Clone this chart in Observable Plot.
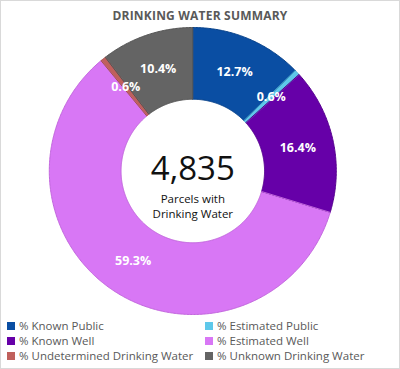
<!DOCTYPE html>
<html>
<head>
<meta charset="utf-8">
<script src="https://cdn.jsdelivr.net/npm/d3@7"></script>
<script src="https://cdn.jsdelivr.net/npm/@observablehq/plot@0.6"></script>
<style>
  html, body { margin: 0; padding: 0; background: #fff; }
  #wrap { width: 400px; height: 369px; box-sizing: border-box; border: 1px solid #d9d9d9; position: relative; overflow: hidden; font-family: "Open Sans", sans-serif; }
  #title { height: 25px; box-sizing: border-box; padding-top: 5px; line-height: 20px; text-align: center; font-weight: bold; font-size: 12px; color: #595959; letter-spacing: 0.2px; }
  #chart svg { display: block; }
  #legend { display: grid; grid-template-columns: 198px 190px; padding-left: 6px; margin-top: 0px; }
  .item { height: 15px; line-height: 15px; font-size: 11.5px; color: #595959; white-space: nowrap; display: flex; align-items: center; }
  .sw { width: 8px; height: 8px; margin-right: 4px; flex: none; }
</style>
</head>
<body>
<div id="wrap">
  <div id="title">DRINKING WATER SUMMARY</div>
  <div id="chart"></div>
  <div id="legend"></div>
</div>
<script>
const categories = ["% Known Public", "% Estimated Public", "% Known Well", "% Estimated Well", "% Undetermined Drinking Water", "% Unknown Drinking Water"];
const values = [12.7, 0.6, 16.4, 59.3, 0.6, 10.4];
const colors = ["#0a4ea3", "#5ec8ea", "#6600a8", "#d877f5", "#c0605c", "#646464"];
const strokes = ["#08428a", "#4fb3d3", "#56008f", "#c266dd", "#a8504c", "#555555"];
const totalLabel = "4,835";
const centerCaption = "Parcels with\nDrinking Water";

const innerR = 0.5;
const labelR = 0.75;

const pie = d3.pie().sort(null).value(d => d)(values);

// polygon points for each slice
const pts = [];
pie.forEach((p, i) => {
  const n = Math.max(2, Math.ceil((p.endAngle - p.startAngle) / 0.01));
  for (let k = 0; k <= n; k++) {
    const a = p.startAngle + (p.endAngle - p.startAngle) * k / n;
    pts.push({cat: categories[i], idx: i, x: Math.sin(a), y: Math.cos(a)});
  }
  for (let k = n; k >= 0; k--) {
    const a = p.startAngle + (p.endAngle - p.startAngle) * k / n;
    pts.push({cat: categories[i], idx: i, x: innerR * Math.sin(a), y: innerR * Math.cos(a)});
  }
});

const labels = pie.map((p, i) => {
  const a = (p.startAngle + p.endAngle) / 2;
  return {text: values[i].toFixed(1) + "%", x: labelR * Math.sin(a), y: labelR * Math.cos(a)};
});

const chart = Plot.plot({
  width: 398,
  height: 292,
  marginLeft: 47.8,
  marginRight: 63.2,
  marginTop: 1,
  marginBottom: 4,
  x: {domain: [-1, 1], axis: null},
  y: {domain: [-1, 1], axis: null},
  style: {fontFamily: "Open Sans, sans-serif", background: "transparent", overflow: "visible"},
  marks: [
    Plot.line(pts, {
      x: "x", y: "y", z: "cat",
      fill: d => colors[d.idx],
      stroke: d => strokes[d.idx],
      strokeWidth: 1,
      curve: "linear-closed"
    }),
    Plot.text(labels, {
      x: "x", y: "y", text: "text",
      fill: "white", fontWeight: "bold", fontSize: 12.5
    }),
    Plot.text([totalLabel], {
      x: 0, y: 0, text: d => d, dy: -2,
      fontSize: 33, fill: "#111"
    }),
    Plot.text([centerCaption], {
      x: 0, y: 0, text: d => d, dy: 34.5, lineHeight: 1.33,
      fontSize: 11.5, fill: "#111"
    })
  ]
});
document.getElementById("chart").appendChild(chart);

const legendOrder = [0, 1, 2, 3, 4, 5];
const leg = document.getElementById("legend");
legendOrder.forEach(i => {
  const it = document.createElement("div");
  it.className = "item";
  const sw = document.createElement("span");
  sw.className = "sw";
  sw.style.background = colors[i];
  it.appendChild(sw);
  it.appendChild(document.createTextNode(categories[i]));
  leg.appendChild(it);
});
</script>
</body>
</html>
